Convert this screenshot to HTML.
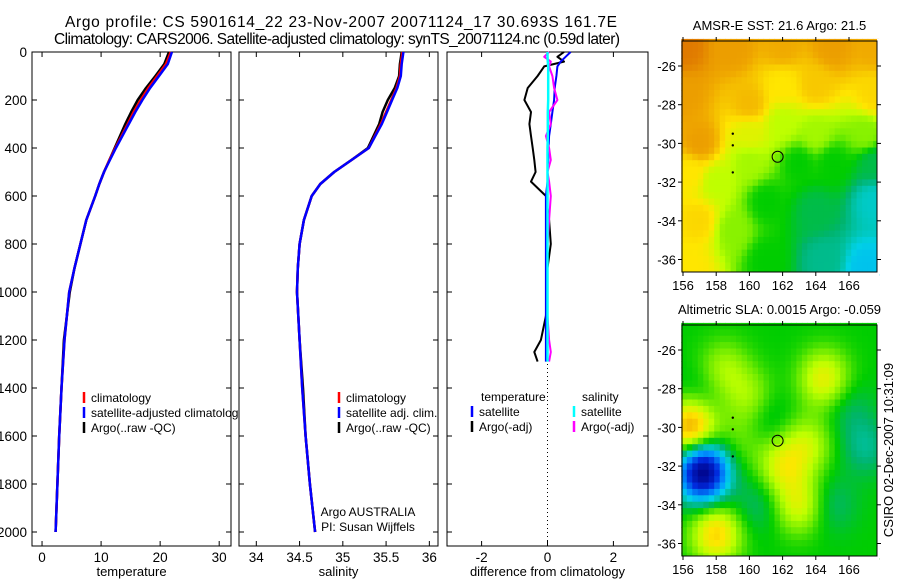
<!DOCTYPE html>
<html><head><meta charset="utf-8"><style>
html,body{margin:0;padding:0;background:#fff;}
svg{display:block;font-family:"Liberation Sans",sans-serif;}
</style></head><body>
<svg id="fig" width="900" height="580" viewBox="0 0 900 580">
<text x="341" y="27" font-size="15.5" text-anchor="middle" textLength="552">Argo profile: CS 5901614_22 23-Nov-2007 20071124_17 30.693S 161.7E</text>
<text x="337" y="44" font-size="15.5" text-anchor="middle" textLength="566">Climatology: CARS2006. Satellite-adjusted climatology: synTS_20071124.nc (0.59d later)</text>
<g id="p1"></g>
<g id="p2"></g>
<g id="p3"></g>
<g id="m1"></g>
<g id="m2"></g>
<text transform="translate(893,450) rotate(-90)" font-size="13" text-anchor="middle">CSIRO 02-Dec-2007 10:31:09</text>
</svg>
<script>
// ---- data ----
const depths = [0,50,100,150,200,250,300,400,450,500,550,600,700,800,900,1000,1200,1400,1600,1800,2000];
const tempClim = [21.8,21,19.5,18,16.7,15.5,14.5,12.4,11.4,10.5,9.7,9,7.5,6.5,5.5,4.6,3.8,3.3,2.9,2.6,2.3];
const tempSat = [22,21.3,19.8,18.3,17,15.8,14.7,12.5,11.5,10.5,9.7,9,7.5,6.5,5.5,4.6,3.8,3.3,2.9,2.6,2.3];
const tempArgo = [21.5,20.7,19.2,17.6,16.2,15.1,14.1,12.3,11.4,10.5,9.7,9,7.5,6.5,5.5,4.7,3.7,3.3,2.9,2.6,2.3];
const salClim = [35.69,35.67,35.66,35.62,35.56,35.5,35.44,35.3,35.1,34.9,34.74,34.64,34.55,34.5,34.48,34.47,34.5,34.53,34.57,34.62,34.68];
const salSat = [35.7,35.68,35.67,35.63,35.57,35.51,35.45,35.3,35.1,34.9,34.74,34.64,34.55,34.5,34.48,34.47,34.5,34.53,34.57,34.62,34.68];
const salArgo = [35.68,35.66,35.65,35.6,35.52,35.46,35.42,35.29,35.1,34.9,34.74,34.64,34.55,34.5,34.48,34.47,34.5,34.54,34.57,34.62,34.68];
const diffDepths = [0,20,40,60,100,150,200,250,300,350,400,450,500,540,600,700,800,900,1000,1100,1200,1250,1290];
const argoTempDiff = [0.5,0.3,0.5,-0.1,-0.3,-0.6,-0.7,-0.5,-0.55,-0.5,-0.45,-0.4,-0.36,-0.5,-0.05,0.05,0.1,0,0,-0.05,-0.2,-0.4,-0.3];
const satTempDiff = [0.7,0.55,0.4,0.3,0.27,0.22,0.2,0.15,0.1,0.05,0.03,0.02,0,0,-0.05,-0.05,-0.05,-0.05,-0.05,-0.05,-0.05,-0.05,-0.05];
const argoSalDiff = [0.05,-0.1,0.1,0.05,0.15,0.2,0.3,0.05,0.1,-0.05,0.05,0.1,0,0.05,0.1,0.05,0,0,0,0,0.05,0.1,0.05];
const satSalDiff = [0.0,0.0,0.01,0.02,0.02,0.02,0.02,0.01,0.01,0.01,0.0,0.0,0.0,0.0,0.0,0.0,0.0,0.0,0.0,0.0,0.0,0.0,0.0];
const tempTicks = [0,10,20,30];
const salTicks = [34,34.5,35,35.5,36];
const diffTicks = [-2,0,2];
const depthTicks = [0,200,400,600,800,1000,1200,1400,1600,1800,2000];
const lonTicks = [156,158,160,162,164,166];
const latTicks = [-26,-28,-30,-32,-34,-36];
// map fields: control points
const sstLon = [156,159,162,165,167.5,156,160,162,164,167.5,157,160,162,164,167,156.5,158,160,163,165,167.5,157,159,161,164,167.5,156.5,161,164.5,167];
const sstLat = [-25,-25,-25,-25,-25,-27.5,-28,-27,-27,-27.5,-30,-29.5,-29,-29.5,-29.5,-31.5,-32,-31,-31,-31,-31,-34,-34.5,-33,-33.5,-33,-36.5,-36,-36,-36.5];
const sstVal = [0.86,0.8,0.78,0.8,0.78,0.8,0.76,0.7,0.74,0.72,0.8,0.66,0.62,0.6,0.58,0.7,0.62,0.6,0.5,0.5,0.46,0.72,0.58,0.5,0.46,0.38,0.7,0.5,0.42,0.34];
const slaLon = [164.5,156.5,157.2,163,158,162,160,158.5,167,160.5,165,159.5,161,163.5,157,166];
const slaLat = [-27.5,-30,-32.3,-34,-35.5,-32,-28.5,-27,-31,-34,-34,-30.7,-29.5,-30.9,-28.5,-29];
const slaVal = [0.17,0.3,-0.5,0.15,0.22,0.15,0.1,0.1,-0.08,-0.06,-0.06,0.05,-0.05,0.12,-0.05,-0.05];

const NS='http://www.w3.org/2000/svg';
function mk(parent,tag,attrs){const e=document.createElementNS(NS,tag);for(const k in attrs)e.setAttribute(k,attrs[k]);parent.appendChild(e);return e;}
function txt(parent,x,y,s,anchor,size){const t=mk(parent,'text',{x:x,y:y,'font-size':size||13,'text-anchor':anchor||'middle'});t.textContent=s;return t;}

const top0=52, bot0=546, y0=52, yk=0.24;
function yD(d){return y0+d*yk;}

function panel(g,L,R,xmin,xmax,ticks,label,fmt){
  const xs=v=>L+(v-xmin)/(xmax-xmin)*(R-L);
  const fr=mk(g,'rect',{x:L,y:top0,width:R-L,height:bot0-top0,fill:'#fff',stroke:'#000','stroke-width':1});
  
  
  ticks.forEach(t=>{const x=xs(t);mk(g,'line',{x1:x,x2:x,y1:top0,y2:top0+5,stroke:'#000'});mk(g,'line',{x1:x,x2:x,y1:bot0,y2:bot0-5,stroke:'#000'});
    const tl=txt(g,x,562,fmt?fmt(t):String(t),'middle',13.5);});
  depthTicks.forEach(d=>{const y=yD(d);mk(g,'line',{x1:L,x2:L+5,y1:y,y2:y,stroke:'#000'});mk(g,'line',{x1:R,x2:R-5,y1:y,y2:y,stroke:'#000'});});
  const xl=txt(g,(L+R)/2,576,label);
  return xs;
}
function line(g,xs,ys,xf,color,w,name){
  const pts=xs.map((v,i)=>xf(v).toFixed(1)+','+yD(ys[i]).toFixed(1)).join(' ');
  const p=mk(g,'polyline',{points:pts,fill:'none',stroke:color,'stroke-width':w,'stroke-linejoin':'round'});
  
  
}
function legend(g,x,y,items){
  items.forEach((it,i)=>{const yy=y+i*15;mk(g,'line',{x1:x,x2:x,y1:yy-10,y2:yy+1,stroke:it[1],'stroke-width':2.5});
    const t=txt(g,x+7,yy,it[0],'start',12);});
}

const p1=document.getElementById('p1');
const xT=panel(p1,32,231,-1.7,32,tempTicks,'temperature');
depthTicks.forEach(d=>{const t=txt(p1,27,yD(d)+5,String(d),'end',13.5);});
line(p1,tempArgo,depths,xT,'#000',2.5,'temp-argo-line');
line(p1,tempClim,depths,xT,'#f00',2.5,'temp-climatology-line');
line(p1,tempSat,depths,xT,'#00f',2.5,'temp-satellite-line');
legend(p1,84,402,[['climatology','#f00'],['satellite-adjusted climatology','#00f'],['Argo(..raw -QC)','#000']]);

const p2=document.getElementById('p2');
const xS=panel(p2,239,438,33.8,36.1,salTicks,'salinity',v=>String(v));
line(p2,salArgo,depths,xS,'#000',2.5,'sal-argo-line');
line(p2,salClim,depths,xS,'#f00',2.5,'sal-climatology-line');
line(p2,salSat,depths,xS,'#00f',2.5,'sal-satellite-line');
legend(p2,339,402,[['climatology','#f00'],['satellite adj. clim.','#00f'],['Argo(..raw -QC)','#000']]);
txt(p2,368,516,'Argo AUSTRALIA','middle',12);
txt(p2,368,531,'PI: Susan Wijffels','middle',12);

const p3=document.getElementById('p3');
const xD=panel(p3,447,648,-3.05,3.05,diffTicks,'difference from climatology');
mk(p3,'line',{x1:xD(0),x2:xD(0),y1:top0,y2:bot0,stroke:'#000','stroke-dasharray':'1,3'});
line(p3,argoTempDiff,diffDepths,xD,'#000',2,'temp-argo-diff-line');
line(p3,satTempDiff,diffDepths,xD,'#00f',2,'temp-satellite-diff-line');
line(p3,argoSalDiff,diffDepths,xD,'#f0f',2,'sal-argo-diff-line');
line(p3,satSalDiff,diffDepths,xD,'#0ff',2.5,'sal-satellite-diff-line');
txt(p3,481,401,'temperature','start',12);
txt(p3,582,401,'salinity','start',12);
legend(p3,472,416,[['satellite','#00f'],['Argo(-adj)','#000']]);
legend(p3,574,416,[['satellite','#0ff'],['Argo(-adj)','#f0f']]);

// ---- maps ----
const cmapStops=[[0,[0,0,130]],[0.15,[0,40,220]],[0.28,[0,150,255]],[0.36,[0,210,230]],[0.44,[0,180,110]],[0.5,[0,205,0]],[0.56,[110,235,0]],[0.62,[190,255,0]],[0.7,[255,230,0]],[0.78,[240,170,0]],[0.88,[220,110,0]],[1,[200,30,0]]];
function cmap(v){v=Math.max(0,Math.min(1,v));
  for(let i=1;i<cmapStops.length;i++){if(v<=cmapStops[i][0]){const a=cmapStops[i-1],b=cmapStops[i];const f=(v-a[0])/(b[0]-a[0]);
    return 'rgb('+[0,1,2].map(k=>Math.round(a[1][k]+(b[1][k]-a[1][k])*f)).join(',')+')';}}
  return 'rgb(200,30,0)';}
function drawMap(g,top,bottom,title,field,name){
  const L=682,R=877;
  const lonX=lo=>683+(lo-156)*16.6, latY=la=>top+25+(-26-la)*19.35;
  const cs=0.33;
  for(let lo=155.9;lo<167.7;lo+=cs){for(let la=-24.6;la>-36.8;la-=cs){
    const x=lonX(lo),y=latY(la);
    if(x>R||y>bottom) continue;
    mk(g,'rect',{x:x.toFixed(1),y:y.toFixed(1),width:(cs*16.6+0.6).toFixed(1),height:(cs*19.35+0.6).toFixed(1),fill:cmap(field(lo+cs/2,la-cs/2))});
  }}
  mk(g,'rect',{x:R,y:top-2,width:30,height:bottom-top+4,fill:'#fff'});
  mk(g,'rect',{x:L-2,y:bottom,width:R-L+4,height:20,fill:'#fff'});
  const fr=mk(g,'rect',{x:L,y:top,width:R-L,height:bottom-top,fill:'none',stroke:'#000'});
  
  
  lonTicks.forEach(lo=>{const x=lonX(lo);mk(g,'line',{x1:x,x2:x,y1:top,y2:top-4,stroke:'#000'});mk(g,'line',{x1:x,x2:x,y1:bottom,y2:bottom+4,stroke:'#000'});txt(g,x,bottom+18,String(lo),'middle',13);});
  latTicks.forEach(la=>{const y=latY(la);mk(g,'line',{x1:L,x2:L-4,y1:y,y2:y,stroke:'#000'});mk(g,'line',{x1:R,x2:R+4,y1:y,y2:y,stroke:'#000'});txt(g,L-6,y+5,String(la),'end',13);});
  const t=txt(g,(L+R)/2,top-11,title,'middle',13);
  const c=mk(g,'circle',{cx:lonX(161.7),cy:latY(-30.69),r:5.5,fill:'none',stroke:'#000'});
  
  
  [[159,-29.5],[159,-30.1],[159,-31.5]].forEach(p=>mk(g,'circle',{cx:lonX(p[0]),cy:latY(p[1]),r:1.2,fill:'#000'}));
}
function sstField(lo,la){let s=0,w=0;for(let i=0;i<sstVal.length;i++){const d=(lo-sstLon[i])**2+(la-sstLat[i])**2+0.2;const k=1/(d*d);s+=k*sstVal[i];w+=k;}return s/w;}
function slaField(lo,la){let v=0.5;for(let i=0;i<slaVal.length;i++){const d=(lo-slaLon[i])**2+(la-slaLat[i])**2;v+=slaVal[i]*Math.exp(-d/2.2);}return v;}
drawMap(document.getElementById('m1'),41,272,'AMSR-E SST: 21.6 Argo: 21.5',sstField,'sst-map');
drawMap(document.getElementById('m2'),325,556,'Altimetric SLA: 0.0015 Argo: -0.059',slaField,'sla-map');
</script>
</body></html>
